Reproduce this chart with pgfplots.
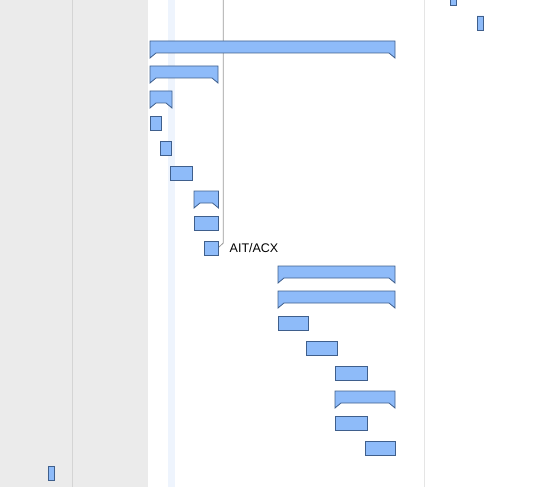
\documentclass[border=0pt]{standalone}
\usepackage{pgfplots}
\pgfplotsset{compat=1.18}
\usepackage{pgfplotstable}
\usepackage{fontspec}
\setmainfont{Liberation Sans}
\definecolor{barfill}{HTML}{8EBBF9}
\definecolor{baredge}{HTML}{3F5F8C}
\definecolor{panel}{HTML}{EBEBEB}
\definecolor{stripe}{HTML}{EEF4FD}
% tasks: row centre (px), start, duration
\pgfplotstableread{
row start dur
-2 450 6.5
23 477 6.5
123 150 11
148 160 11.5
173 170 22
223 194 24.5
248 204 14.5
323 278 30
348 306 31
373 335 32
423 335 32
448 365 30
473 48 6.5
}\tasks
\pgfplotsset{gantt/.style={width=554pt, height=487pt, scale only axis,
  xmin=0, xmax=554, ymin=0, ymax=487, y dir=reverse, hide axis,
  at={(0pt,0pt)}, anchor=south west}}
\begin{document}
\begin{tikzpicture}
\begin{axis}[gantt]
\fill[panel] (axis cs:0,0) rectangle (axis cs:148,487);
\draw[color=black!17, line width=0.8pt] (axis cs:72.5,0) -- (axis cs:72.5,487);
\fill[stripe] (axis cs:168,0) rectangle (axis cs:175,487);
\draw[color=black!10, line width=0.8pt] (axis cs:424.5,0) -- (axis cs:424.5,487);
\draw[color=black!40, line width=0.8pt] (axis cs:223.3,0) -- (axis cs:223.3,243) -- (axis cs:219,247);
\coordinate (tl) at (axis cs:0,0);
\coordinate (br) at (axis cs:554,487);
\end{axis}
\begin{axis}[gantt, xbar stacked, bar width=14]
\addplot[draw=none, fill=none, forget plot] table[x=start, y=row] {\tasks};
\addplot[fill=barfill, draw=baredge, line width=0.8pt] table[x=dur, y=row] {\tasks};
\end{axis}
\begin{axis}[gantt]
% summary bars
\addplot[fill=barfill, draw=baredge, line width=0.8pt] coordinates {(150,41)(395,41)(395,58)(389,53)(156,53)(150,58)} -- cycle;
\addplot[fill=barfill, draw=baredge, line width=0.8pt] coordinates {(150,66)(218,66)(218,83)(212,78)(156,78)(150,83)} -- cycle;
\addplot[fill=barfill, draw=baredge, line width=0.8pt] coordinates {(150,91)(172,91)(172,108)(166,103)(156,103)(150,108)} -- cycle;
\addplot[fill=barfill, draw=baredge, line width=0.8pt] coordinates {(194,191)(218.5,191)(218.5,208)(212.5,203)(200,203)(194,208)} -- cycle;
\addplot[fill=barfill, draw=baredge, line width=0.8pt] coordinates {(278,266)(395,266)(395,283)(389,278)(284,278)(278,283)} -- cycle;
\addplot[fill=barfill, draw=baredge, line width=0.8pt] coordinates {(278,291)(395,291)(395,308)(389,303)(284,303)(278,308)} -- cycle;
\addplot[fill=barfill, draw=baredge, line width=0.8pt] coordinates {(335,391)(395,391)(395,408)(389,403)(341,403)(335,408)} -- cycle;
\node[anchor=base west, inner sep=0pt, font=\fontsize{12.5pt}{14pt}\selectfont] at (axis cs:229.5,252) {AIT/ACX};
\end{axis}
\pgfresetboundingbox
\path[use as bounding box] (tl) rectangle (br);
\end{tikzpicture}
\end{document}
